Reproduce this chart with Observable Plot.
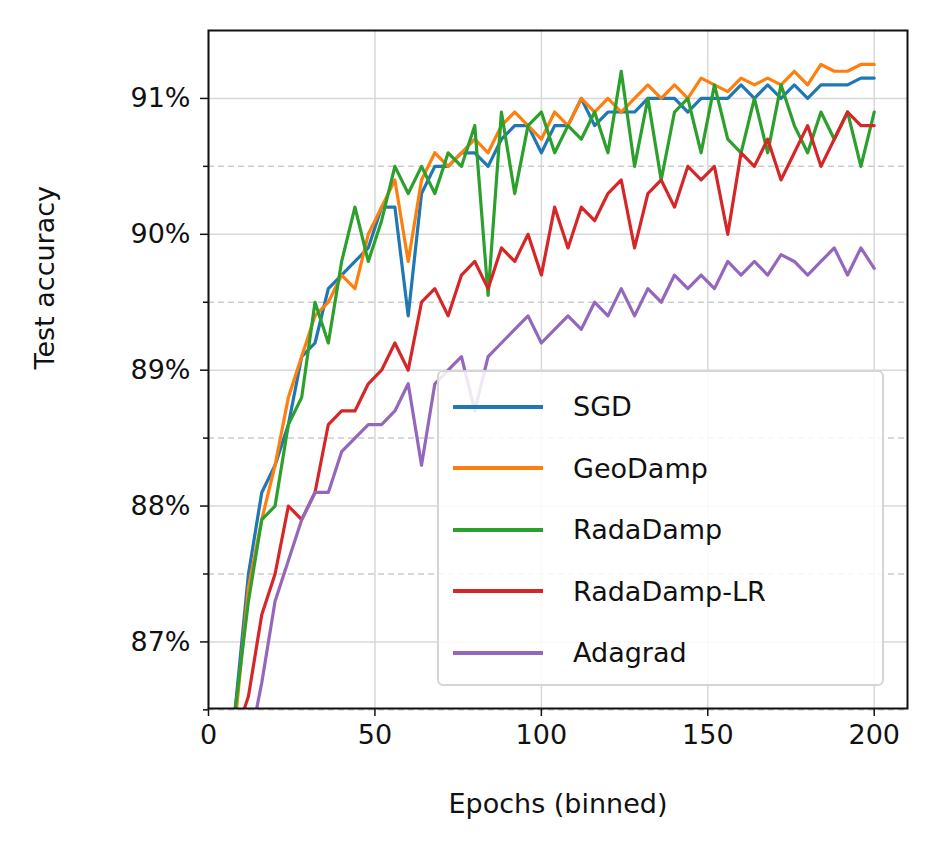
<!DOCTYPE html>
<html>
<head>
<meta charset="utf-8">
<script src="https://cdn.jsdelivr.net/npm/d3@7"></script>
<script src="https://cdn.jsdelivr.net/npm/@observablehq/plot@0.6"></script>
<style>
body { margin: 0; background: #fff; font-family: "DejaVu Sans", sans-serif; }
#wrap { position: relative; width: 942px; height: 865px; }
#legend { position: absolute; left: 437px; top: 370px; width: 447px; height: 316px;
  border: 2px solid #d5d5d5; border-radius: 6px; background: rgba(255,255,255,0.85);
  box-sizing: border-box; padding: 4px 0 0 14px; }
.item { display: flex; align-items: center; height: 61.5px; font-size: 27px; color: #111; }
.sw { width: 90px; height: 4px; margin-right: 30px; }
</style>
</head>
<body>
<div id="wrap"><div id="chart"></div><div id="legend"></div></div>
<script>
const epochs = d3.range(8, 201, 4)
const names = ['SGD', 'GeoDamp', 'RadaDamp', 'RadaDamp-LR', 'Adagrad']
const colors = ['#1f77b4', '#ff7f0e', '#2ca02c', '#d62728', '#9467bd']
const sgd = [86.5,87.5,88.1,88.3,88.6,89.1,89.2,89.6,89.7,89.8,89.9,90.2,90.2,89.4,90.3,90.5,90.5,90.6,90.6,90.5,90.7,90.8,90.8,90.6,90.8,90.8,91.0,90.8,90.9,90.9,90.9,91.0,91.0,91.0,90.9,91.0,91.0,91.0,91.1,91.0,91.1,91.0,91.1,91.0,91.1,91.1,91.1,91.15,91.15]
const geodamp = [86.4,87.4,87.9,88.3,88.8,89.1,89.4,89.5,89.7,89.6,90.0,90.2,90.4,89.8,90.4,90.6,90.5,90.6,90.7,90.6,90.8,90.9,90.8,90.7,90.9,90.8,91.0,90.9,91.0,90.9,91.0,91.1,91.0,91.1,91.0,91.15,91.1,91.05,91.15,91.1,91.15,91.1,91.2,91.1,91.25,91.2,91.2,91.25,91.25]
const radadamp = [86.5,87.3,87.9,88.0,88.6,88.8,89.5,89.2,89.8,90.2,89.8,90.1,90.5,90.3,90.5,90.3,90.6,90.5,90.8,89.55,90.9,90.3,90.8,90.9,90.6,90.8,90.7,90.9,90.6,91.2,90.5,91.0,90.4,90.9,91.0,90.6,91.1,90.7,90.6,91.0,90.6,91.1,90.8,90.6,90.9,90.7,90.9,90.5,90.9]
const radadampLR = [86.3,86.6,87.2,87.5,88.0,87.9,88.1,88.6,88.7,88.7,88.9,89.0,89.2,89.0,89.5,89.6,89.4,89.7,89.8,89.6,89.9,89.8,90.0,89.7,90.2,89.9,90.2,90.1,90.3,90.4,89.9,90.3,90.4,90.2,90.5,90.4,90.5,90.0,90.6,90.5,90.7,90.4,90.6,90.8,90.5,90.7,90.9,90.8,90.8]
const adagrad = [85.9,86.2,86.7,87.3,87.6,87.9,88.1,88.1,88.4,88.5,88.6,88.6,88.7,88.9,88.3,88.9,89.0,89.1,88.7,89.1,89.2,89.3,89.4,89.2,89.3,89.4,89.3,89.5,89.4,89.6,89.4,89.6,89.5,89.7,89.6,89.7,89.6,89.8,89.7,89.8,89.7,89.85,89.8,89.7,89.8,89.9,89.7,89.9,89.75]
const series = [sgd, geodamp, radadamp, radadampLR, adagrad]
const xTicks = [0, 50, 100, 150, 200]
const yTicks = [87, 88, 89, 90, 91]
const yMinor = [86.5, 87.5, 88.5, 89.5, 90.5]

const rows = []
series.forEach((s, k) => epochs.forEach((e, i) => {
  if (s[i] != null) rows.push({epoch: e, acc: s[i], name: names[k]})
}))

const chart = Plot.plot({
  width: 942, height: 865,
  marginLeft: 208, marginRight: 35, marginTop: 30, marginBottom: 157,
  style: {fontFamily: "DejaVu Sans", fontSize: "27px", color: "#111", background: "#fff"},
  x: {type: "linear", domain: [0, 210], label: null},
  y: {type: "linear", domain: [86.51, 91.5], label: null},
  color: {domain: names, range: colors},
  marks: [
    Plot.ruleY(yMinor, {stroke: "#ccc", strokeWidth: 1.5, strokeDasharray: "6,4"}),
    Plot.gridX(xTicks, {stroke: "#d8d8d8", strokeOpacity: 1, strokeWidth: 1.5}),
    Plot.gridY(yTicks, {stroke: "#d8d8d8", strokeOpacity: 1, strokeWidth: 1.5}),
    Plot.line(rows, {x: 'epoch', y: 'acc', z: 'name', stroke: 'name', strokeWidth: 3.2, clip: true}),
    Plot.axisY(yMinor, {tickSize: 5, tickFormat: () => "", label: null, strokeWidth: 1.5}),
    Plot.axisX(xTicks, {tickSize: 8, tickPadding: 8, label: null, strokeWidth: 1.5}),
    Plot.axisY(yTicks, {tickSize: 8, tickPadding: 10, tickFormat: d => d + '%', label: null, strokeWidth: 1.5}),
    Plot.frame({stroke: "#111", strokeWidth: 2}),
    Plot.text(["Epochs (binned)"], {frameAnchor: "bottom", dy: 104, fontSize: 27}),
    Plot.text(["Test accuracy"], {frameAnchor: "left", dx: -163, rotate: -90, fontSize: 27})
  ]
})
document.getElementById('chart').append(chart)

const leg = d3.select('#legend')
names.forEach((n, k) => {
  const it = leg.append('div').attr('class', 'item')
  it.append('div').attr('class', 'sw').style('background', colors[k])
  it.append('span').text(n)
})
</script>
</body>
</html>
